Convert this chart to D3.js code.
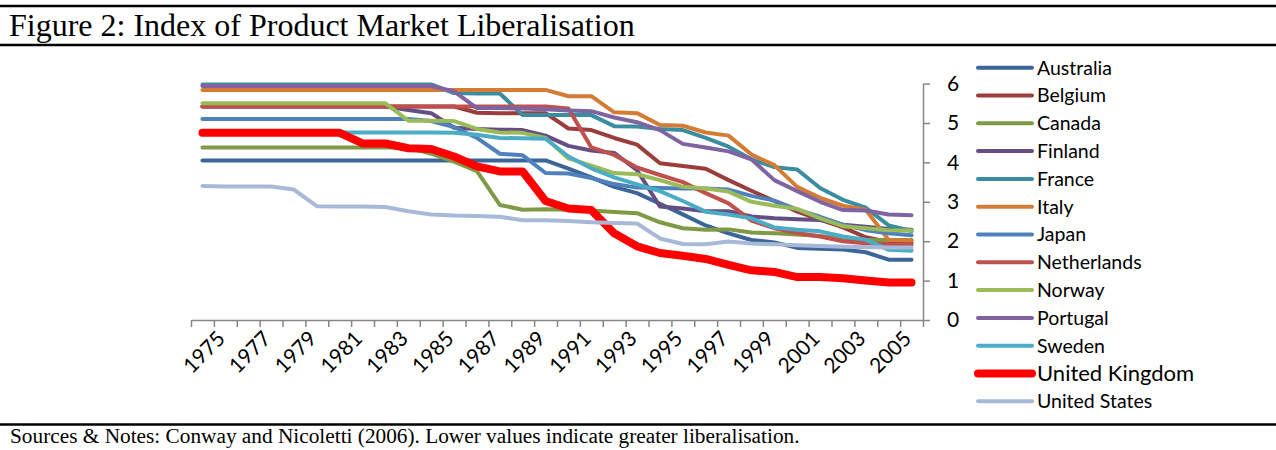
<!DOCTYPE html>
<html>
<head>
<meta charset="utf-8">
<script src="https://cdn.jsdelivr.net/npm/d3@7"></script>
<style>
  body { margin: 0; background: #fff; }
  svg { display: block; }
</style>
</head>
<body>
<svg id="svg" width="1276" height="450"></svg>
<script>
const years = [1975, 1976, 1977, 1978, 1979, 1980, 1981, 1982, 1983, 1984, 1985, 1986, 1987, 1988, 1989, 1990,
  1991, 1992, 1993, 1994, 1995, 1996, 1997, 1998, 1999, 2000, 2001, 2002, 2003, 2004, 2005, 2006];
const tickYears = [1975, 1977, 1979, 1981, 1983, 1985, 1987, 1989, 1991, 1993, 1995, 1997, 1999, 2001, 2003, 2005];
const yTicks = [0, 1, 2, 3, 4, 5, 6];

const countries = ["Australia", "Belgium", "Canada", "Finland", "France", "Italy", "Japan",
  "Netherlands", "Norway", "Portugal", "Sweden", "United Kingdom", "United States"];
const colors = ["#3c6698", "#9b3d3a", "#7e9a45", "#644e83", "#3a8ca1", "#d47c36", "#4f81bd",
  "#c0504d", "#9bbb59", "#8064a2", "#4bacc6", "#ff0000", "#a7b9d7"];

const australia = [4.05, 4.05, 4.05, 4.05, 4.05, 4.05, 4.05, 4.05, 4.05, 4.05, 4.05, 4.05, 4.05, 4.05, 4.05, 4.05,
  3.84, 3.62, 3.38, 3.22, 2.95, 2.68, 2.40, 2.20, 2.03, 1.97, 1.83, 1.81, 1.79, 1.72, 1.53, 1.53];
const belgium = [5.42, 5.42, 5.42, 5.42, 5.42, 5.42, 5.42, 5.42, 5.42, 5.42, 5.42, 5.42, 5.26, 5.25, 5.25, 5.25,
  4.86, 4.82, 4.62, 4.45, 3.98, 3.91, 3.84, 3.55, 3.28, 3.02, 2.75, 2.55, 2.35, 2.10, 1.98, 1.96];
const canada = [4.38, 4.38, 4.38, 4.38, 4.38, 4.38, 4.38, 4.38, 4.38, 4.38, 4.22, 4.02, 3.78, 2.92, 2.80, 2.81,
  2.80, 2.78, 2.74, 2.71, 2.48, 2.33, 2.29, 2.30, 2.22, 2.20, 2.17, 2.13, 2.06, 2.03, 2.03, 2.03];
const finland = [5.42, 5.42, 5.42, 5.42, 5.42, 5.42, 5.42, 5.42, 5.42, 5.33, 5.25, 4.88, 4.85, 4.83, 4.82, 4.68,
  4.42, 4.30, 4.24, 3.80, 2.88, 2.83, 2.76, 2.76, 2.63, 2.58, 2.56, 2.54, 2.42, 2.37, 2.31, 2.29];
const france = [5.98, 5.98, 5.98, 5.98, 5.98, 5.98, 5.98, 5.98, 5.98, 5.98, 5.98, 5.76, 5.75, 5.75, 5.20, 5.20,
  5.20, 5.20, 4.92, 4.91, 4.85, 4.82, 4.62, 4.40, 4.08, 3.88, 3.82, 3.35, 3.05, 2.85, 2.40, 2.26];
const italy = [5.84, 5.84, 5.84, 5.84, 5.84, 5.84, 5.84, 5.84, 5.84, 5.84, 5.84, 5.84, 5.84, 5.84, 5.84, 5.84,
  5.68, 5.68, 5.27, 5.25, 4.95, 4.93, 4.76, 4.68, 4.20, 3.93, 3.38, 3.10, 2.90, 2.80, 2.03, 2.02];
const japan = [5.10, 5.10, 5.10, 5.10, 5.10, 5.10, 5.10, 5.10, 5.10, 5.10, 5.05, 4.90, 4.62, 4.22, 4.18, 3.73,
  3.72, 3.60, 3.45, 3.36, 3.35, 3.34, 3.34, 3.31, 3.15, 3.03, 2.80, 2.62, 2.42, 2.28, 2.20, 2.15];
const netherlands = [5.42, 5.42, 5.42, 5.42, 5.42, 5.42, 5.42, 5.42, 5.42, 5.42, 5.42, 5.42, 5.42, 5.42, 5.42, 5.42,
  5.37, 4.38, 4.19, 3.87, 3.68, 3.50, 3.22, 2.96, 2.52, 2.33, 2.21, 2.12, 2.00, 1.95, 1.92, 1.91];
const norway = [5.50, 5.50, 5.50, 5.50, 5.50, 5.50, 5.50, 5.50, 5.50, 5.06, 5.06, 5.05, 4.85, 4.76, 4.75, 4.62,
  4.10, 3.92, 3.73, 3.70, 3.55, 3.38, 3.34, 3.26, 3.00, 2.90, 2.82, 2.58, 2.38, 2.33, 2.28, 2.27];
const portugal = [5.94, 5.94, 5.94, 5.94, 5.94, 5.94, 5.94, 5.94, 5.94, 5.94, 5.94, 5.80, 5.38, 5.38, 5.37, 5.35,
  5.32, 5.30, 5.14, 5.02, 4.82, 4.47, 4.38, 4.28, 4.08, 3.55, 3.27, 3.00, 2.79, 2.78, 2.68, 2.66];
const sweden = [4.76, 4.76, 4.76, 4.76, 4.76, 4.76, 4.76, 4.76, 4.76, 4.76, 4.76, 4.75, 4.70, 4.62, 4.61, 4.60,
  4.15, 3.85, 3.62, 3.44, 3.27, 3.02, 2.75, 2.68, 2.58, 2.35, 2.29, 2.25, 2.12, 2.04, 1.78, 1.76];
const unitedKingdom = [4.75, 4.75, 4.75, 4.75, 4.75, 4.75, 4.75, 4.48, 4.48, 4.36, 4.34, 4.15, 3.90, 3.77, 3.77, 3.02,
  2.83, 2.79, 2.20, 1.87, 1.70, 1.63, 1.55, 1.40, 1.26, 1.22, 1.09, 1.09, 1.06, 1.00, 0.95, 0.95];
const unitedStates = [3.40, 3.39, 3.39, 3.39, 3.31, 2.89, 2.88, 2.88, 2.87, 2.76, 2.68, 2.65, 2.64, 2.62, 2.53, 2.53,
  2.51, 2.48, 2.46, 2.45, 2.07, 1.93, 1.92, 1.99, 1.94, 1.92, 1.90, 1.88, 1.86, 1.85, 1.84, 1.84];

const seriesValues = [australia, belgium, canada, finland, france, italy, japan,
  netherlands, norway, portugal, sweden, unitedKingdom, unitedStates];

const series = countries.map((name, i) => ({
  name,
  color: colors[i],
  width: name === "United Kingdom" ? 8 : 4,
  values: seriesValues[i].map((v, j) => ({ year: years[j], value: v }))
}));

const svg = d3.select("#svg");

const plotLeft = 191;
const plotRight = 923;
const plotBottom = 320;
const plotTop = 83.6;

let xScale = d3.scaleBand(years, [plotLeft, plotRight]);
let xEdge = d3.scaleLinear([0, years.length], [plotLeft, plotRight]);
let yScale = d3.scaleLinear([0, 6], [plotBottom, plotTop]);

const xMid = (yr) => xScale(yr) + xScale.bandwidth() / 2;

// frame rules + title + notes
const rule = (y, w) => svg.append("line")
  .attr("x1", 0).attr("x2", 1276).attr("y1", y).attr("y2", y)
  .attr("stroke", "#000").attr("stroke-width", w);
rule(6, 2.5);
rule(45, 2.5);
rule(424.5, 2.5);

svg.append("text")
  .attr("x", 9).attr("y", 36)
  .attr("font-family", "'Liberation Serif', 'Times New Roman', serif")
  .attr("font-size", 32)
  .text("Figure 2: Index of Product Market Liberalisation");

svg.append("text")
  .attr("x", 10).attr("y", 443)
  .attr("font-family", "'Liberation Serif', 'Times New Roman', serif")
  .attr("font-size", 21.3)
  .text("Sources & Notes: Conway and Nicoletti (2006). Lower values indicate greater liberalisation.");

// x axis (ticks at category edges)
const xAxis = svg.append("g")
  .attr("transform", `translate(0,${plotBottom})`)
  .call(d3.axisBottom(xEdge).tickValues(d3.range(years.length + 1)).tickSize(7).tickSizeOuter(0).tickFormat(""));
xAxis.selectAll("path, line").attr("stroke", "#868686").attr("stroke-width", 1.5);

svg.append("g")
  .selectAll("text")
  .data(tickYears)
  .join("text")
  .attr("transform", (d) => `translate(${xMid(d) + 24},${plotBottom + 20}) rotate(-45)`)
  .attr("text-anchor", "end")
  .attr("font-family", "Lato, 'Open Sans', sans-serif")
  .attr("font-size", 21)
  .attr("fill", "#000")
  .text((d) => d);

// y axis on the right
const yAxis = svg.append("g")
  .attr("transform", `translate(${plotRight},0)`)
  .call(d3.axisRight(yScale).tickValues(yTicks).tickFormat(d3.format("d"))
    .tickSize(7).tickSizeOuter(0).tickPadding(17));
yAxis.selectAll("path, line").attr("stroke", "#868686").attr("stroke-width", 1.5);
yAxis.selectAll("text")
  .attr("font-family", "Lato, 'Open Sans', sans-serif")
  .attr("font-size", 21)
  .attr("fill", "#000");

// lines
let lineFunc = d3.line()
  .x((d) => xMid(d.year))
  .y((d) => yScale(d.value));

svg.append("g")
  .selectAll("path")
  .data(series)
  .join("path")
  .attr("fill", "none")
  .attr("stroke", (d) => d.color)
  .attr("stroke-width", (d) => d.width)
  .attr("stroke-linecap", "round")
  .attr("stroke-linejoin", "round")
  .attr("d", (d) => lineFunc(d.values));

// legend
const legendTop = 67.7;
const legendStep = 27.8;
const legend = svg.append("g")
  .selectAll("g")
  .data(series)
  .join("g")
  .attr("transform", (d, i) => `translate(0,${legendTop + i * legendStep})`);

legend.append("line")
  .attr("x1", 978).attr("x2", 1032)
  .attr("stroke", (d) => d.color)
  .attr("stroke-width", (d) => d.width)
  .attr("stroke-linecap", "round");

legend.append("text")
  .attr("x", 1037)
  .attr("dy", "0.35em")
  .attr("font-family", "Lato, 'Open Sans', sans-serif")
  .attr("font-size", (d) => (d.name === "United Kingdom" ? 22 : 19.5))
  .attr("fill", "#000")
  .text((d) => d.name);
</script>
</body>
</html>
